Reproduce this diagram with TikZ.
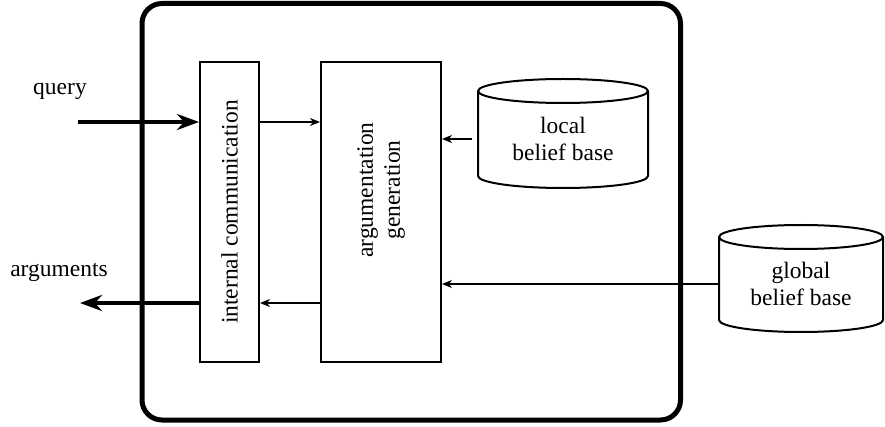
\documentclass[tikz,border=0pt]{standalone}
\usepackage{fontspec}
\setmainfont{Liberation Serif}
\usetikzlibrary{arrows.meta}
\begin{document}
\begin{tikzpicture}[x=1pt,y=-1pt,
  every node/.style={font=\fontsize{23.5}{27}\selectfont},
  blockbox/.style={draw,line width=2pt,inner sep=0pt},
  dbshape/.style={draw,line width=2pt,fill=white},
  thinarrow/.style={line width=1.5pt,-{Stealth[length=10pt,width=8pt,inset=3pt]}},
  thickarrow/.style={line width=4.5pt,-{Stealth[length=22pt,width=16pt,inset=7pt]}},
  txt/.style={align=center,inner sep=0pt}]
\useasboundingbox (0,0) rectangle (885,427);

% agent frame
\draw[line width=5pt,rounded corners=20pt] (142,3.5) rectangle (680.5,420);

% processing blocks
\node[blockbox,minimum width=59pt,minimum height=300pt] (ic) at (229.5,212) {};
\node[txt,rotate=90] (ictext) at (229.5,212) {internal communication};
\node[blockbox,minimum width=120pt,minimum height=300pt] (ag) at (381,212) {};
\node[txt,rotate=90] (agtext) at (381,190) {argumentation\\generation};

% local belief base
\draw[dbshape] (478,91) -- (478,176) arc[start angle=180,end angle=0,x radius=85,y radius=12]
  -- (648,91) arc[start angle=0,end angle=-180,x radius=85,y radius=12];
\draw[line width=2pt] (478,91) arc[start angle=180,end angle=0,x radius=85,y radius=12];
\node[txt,minimum width=170pt] (local) at (563,139) {local\\belief base};

% global belief base
\draw[dbshape] (719,237) -- (719,320) arc[start angle=180,end angle=0,x radius=82,y radius=12]
  -- (883,237) arc[start angle=0,end angle=-180,x radius=82,y radius=12];
\draw[line width=2pt] (719,237) arc[start angle=180,end angle=0,x radius=82,y radius=12];
\node[txt,minimum width=164pt] (global) at (801,284) {global\\belief base};

% external labels
\node[txt] (query) at (60,91) {query};
\node[txt] (arguments) at (59,272) {arguments};

% connector rows
\coordinate (qin) at (78,122);
\coordinate (aout) at (80,303);
\coordinate (lrow) at (0,139);
\coordinate (grow) at (0,284);

\draw[thickarrow] (qin) -- (ic.west |- qin);
\draw[thinarrow] (ic.east |- qin) -- (ag.west |- qin);
\draw[thinarrow,shorten <=6pt] (local.west |- lrow) -- (ag.east |- lrow);
\draw[thinarrow] (global.west |- grow) -- (ag.east |- grow);
\draw[thinarrow] (ag.west |- aout) -- (ic.east |- aout);
\draw[thickarrow] (ic.west |- aout) -- (aout);
\end{tikzpicture}
\end{document}
